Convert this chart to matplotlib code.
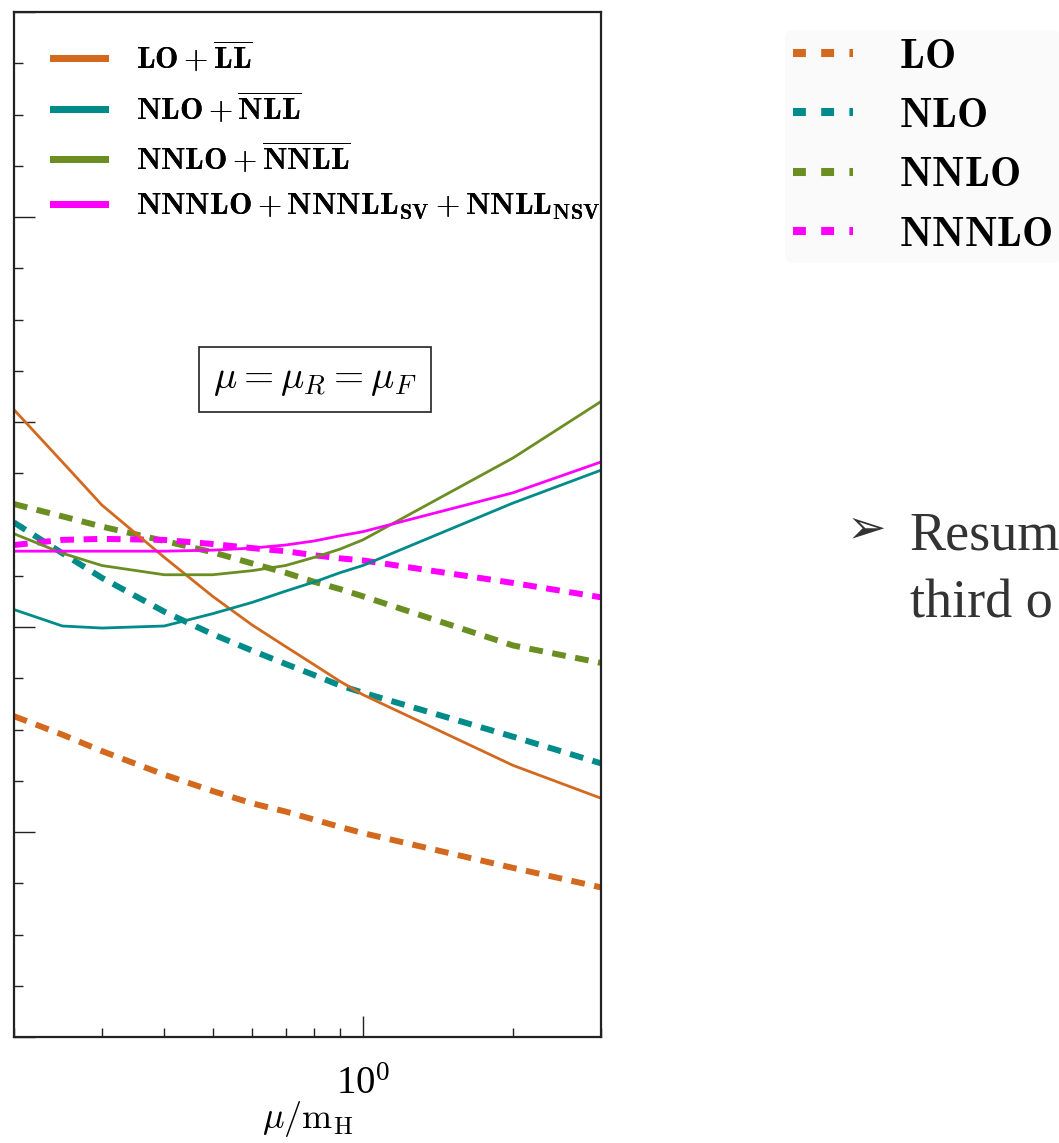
import numpy as np
import matplotlib
matplotlib.use("Agg")
import matplotlib.pyplot as plt
from matplotlib.lines import Line2D
from matplotlib.ticker import MultipleLocator, LogLocator, NullFormatter

plt.rcParams['mathtext.fontset'] = 'cm'
plt.rcParams['font.family'] = ['Liberation Serif', 'DejaVu Sans']

# scale choice mu/mH
mu = [0.2, 0.25, 0.3, 0.4, 0.5, 0.6, 0.7, 0.8, 0.9, 1.0, 2.0, 3.0]

# resummed (solid)
lo_ll = [0.612, 0.561, 0.519, 0.468, 0.430, 0.402, 0.381, 0.363, 0.347, 0.334, 0.265, 0.233]
nlo_nll = [0.417, 0.401, 0.399, 0.401, 0.413, 0.424, 0.435, 0.444, 0.453, 0.460, 0.521, 0.553]
nnlo_nnll = [0.491, 0.472, 0.460, 0.451, 0.451, 0.455, 0.460, 0.468, 0.476, 0.485, 0.565, 0.620]
n3lo_n3ll = [0.474, 0.474, 0.474, 0.474, 0.475, 0.477, 0.480, 0.484, 0.489, 0.493, 0.531, 0.561]

# fixed order (dashed)
lo = [0.313, 0.295, 0.279, 0.256, 0.240, 0.228, 0.220, 0.212, 0.205, 0.199, 0.165, 0.146]
nlo = [0.502, 0.472, 0.448, 0.415, 0.393, 0.377, 0.364, 0.353, 0.343, 0.336, 0.293, 0.267]
nnlo = [0.520, 0.508, 0.498, 0.484, 0.473, 0.462, 0.453, 0.444, 0.437, 0.430, 0.382, 0.365]
n3lo = [0.480, 0.485, 0.486, 0.485, 0.481, 0.477, 0.474, 0.470, 0.467, 0.465, 0.443, 0.429]

colors = ['#d2691e', '#008b8b', '#6b8e23', '#ff00ff']
res_labels = [r'$\mathbf{LO}+\overline{\mathbf{LL}}$',
              r'$\mathbf{NLO}+\overline{\mathbf{NLL}}$',
              r'$\mathbf{NNLO}+\overline{\mathbf{NNLL}}$',
              r'$\mathbf{NNNLO}+\mathbf{NNNLL}_{\mathbf{SV}}+\mathbf{NNLL}_{\mathbf{NSV}}$']
fo_labels = [r'$\mathbf{LO}$', r'$\mathbf{NLO}$', r'$\mathbf{NNLO}$', r'$\mathbf{NNNLO}$']

fig = plt.figure(figsize=(10.59, 11.43), dpi=100)
ax = fig.add_axes([0.0132, 0.0927, 0.5543, 0.8968])

for y, c in zip([lo, nlo, nnlo, n3lo], colors):
    ax.plot(mu, y, color=c, lw=4.3, linestyle=(0, (2.3, 1.6)))
for y, c in zip([lo_ll, nlo_nll, nnlo_nnll, n3lo_n3ll], colors):
    ax.plot(mu, y, color=c, lw=2.0)

ax.set_xscale('log')
ax.set_xlim(0.2, 3.0)
ax.set_ylim(0, 1)
ax.xaxis.set_major_locator(LogLocator(base=10))
ax.xaxis.set_minor_locator(LogLocator(base=10, subs=np.arange(2, 10)))
ax.xaxis.set_minor_formatter(NullFormatter())
ax.yaxis.set_major_locator(MultipleLocator(0.2))
ax.yaxis.set_minor_locator(MultipleLocator(0.05))
ax.tick_params(which='both', direction='in', top=False, right=False,
               labelleft=False, width=1.0, color='#222222')
ax.tick_params(which='major', length=15)
ax.tick_params(which='minor', length=6.5)
ax.tick_params(axis='x', labelsize=28, pad=21)
for s in ax.spines.values():
    s.set_linewidth(1.6)
    s.set_color('#222222')
ax.set_xlabel(r'$\mu/\mathrm{m_H}$', fontsize=26, labelpad=-3)

h1 = [Line2D([], [], color=c, lw=5.0) for c in colors]
leg1 = ax.legend(h1, res_labels, loc='upper left', frameon=False, fontsize=22.5,
                 handlelength=1.66, handletextpad=1.0, labelspacing=0.47,
                 borderpad=0.0, borderaxespad=0.0, bbox_to_anchor=(0.066, 0.972))
ax.add_artist(leg1)

ax.text(0.513, 0.641, r'$\mu=\mu_R=\mu_F$', transform=ax.transAxes, fontsize=28,
        ha='center', va='center',
        bbox=dict(boxstyle='square,pad=0.36', fc='white', ec='#222222', lw=1.2))

h2 = [Line2D([], [], color=c, lw=5.8, linestyle=(0, (1.6, 1.9))) for c in colors]
fig.legend(h2, fo_labels, loc='upper left', bbox_to_anchor=(0.741, 0.974),
           frameon=True, fontsize=30, handlelength=1.44, handletextpad=1.1,
           labelspacing=0.5, borderpad=0.2, borderaxespad=0.0,
           facecolor='#fafafa', edgecolor='none', framealpha=1)

fig.text(0.800, 0.536, '\u27a2', fontsize=34, color='#333333', family=['DejaVu Sans'],
         va='center')
fig.text(0.859, 0.519, 'Resum', fontsize=39, color='#333333',
         family=['Liberation Serif'], va='baseline')
fig.text(0.859, 0.460, 'third o', fontsize=39, color='#333333',
         family=['Liberation Serif'], va='baseline')

fig.savefig('out.png', dpi=100)
